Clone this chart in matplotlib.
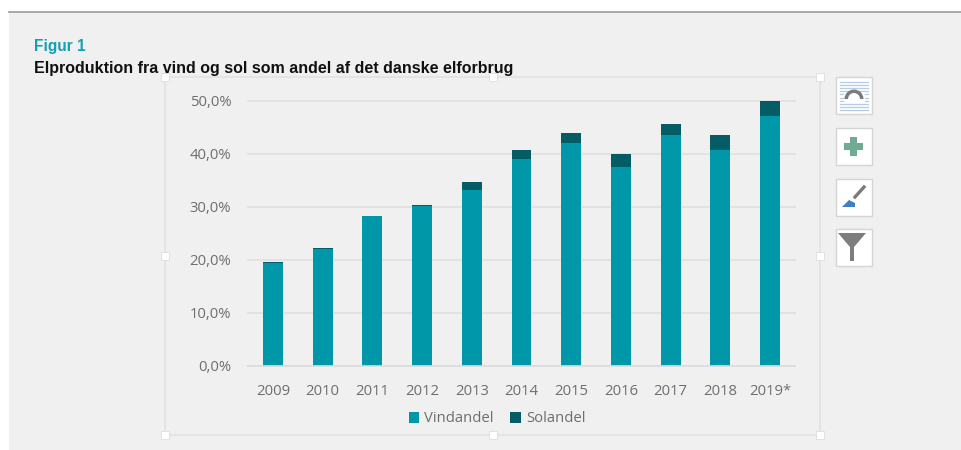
import matplotlib
matplotlib.use("Agg")
import matplotlib.pyplot as plt
from matplotlib.patches import Rectangle, Polygon, Wedge

# values (percent)
years = ['2009', '2010', '2011', '2012', '2013', '2014', '2015', '2016', '2017', '2018', '2019*']
wind_share = [19.4, 22.1, 28.2, 30.2, 33.2, 39.0, 42.1, 37.6, 43.5, 40.8, 47.2]
solar_share = [0.1, 0.1, 0.1, 0.2, 1.4, 1.8, 1.8, 2.3, 2.2, 2.7, 2.8]
y_ticks = [0, 10, 20, 30, 40, 50]

W, H = 961, 450
BG = '#f0f0f0'
TEAL = '#0097a9'
DARK = '#045c64'
GREY = '#6e6e6e'
FRAME = '#e2e2e2'

fig = plt.figure(figsize=(W / 100, H / 100), dpi=100, facecolor='white')

# background layer in pixel coordinates, for the screenshot furniture
bg = fig.add_axes([0, 0, 1, 1], zorder=0)
bg.set_xlim(0, W)
bg.set_ylim(H, 0)
bg.axis('off')
bg.add_patch(Rectangle((9, 12), W - 9, 438, fc=BG, ec='none'))
bg.plot([9, W], [12, 12], color='#a8a8a8', lw=1.4)

bg.text(34, 46, 'Figur 1', color='#12a0b4', fontsize=11.2, fontweight='bold',
        family='Liberation Sans', va='center')
bg.text(34, 69, 'Elproduktion fra vind og sol som andel af det danske elforbrug',
        color='#111111', fontsize=11.5, fontweight='bold', family='Liberation Sans', va='center')

# chart frame and selection handles
bg.add_patch(Rectangle((165, 77), 655, 358, fc='none', ec=FRAME, lw=1.2))
for hx in (165, 492.5, 820):
    for hy in (77, 256, 435):
        if hx == 492.5 and hy == 256:
            continue
        bg.add_patch(Rectangle((hx - 4, hy - 4), 8, 8, fc='white', ec='#dddddd', lw=0.6, zorder=3))

# side buttons
for by in (77, 128, 179, 229):
    bg.add_patch(Rectangle((836, by), 36, 37, fc='white', ec='#d4d4d4', lw=1, zorder=3))

for ly in (82, 85, 88, 91, 104, 107, 110):
    bg.plot([840, 868], [ly, ly], color='#b5cce4', lw=0.9, zorder=4)
for ly in (94, 98, 101):
    bg.plot([840, 843], [ly, ly], color='#b5cce4', lw=0.9, zorder=4)
    bg.plot([865, 868], [ly, ly], color='#b5cce4', lw=0.9, zorder=4)
bg.add_patch(Wedge((854, 99), 9.5, 180, 360, width=3.5, fc='#7a7a7a', ec='none', zorder=4))
bg.add_patch(Rectangle((849.5, 137), 7, 19, fc='#6fab93', ec='none', zorder=4))
bg.add_patch(Rectangle((843.5, 143), 19, 7, fc='#6fab93', ec='none', zorder=4))
bg.plot([855, 864], [197, 187], color='#7a7a7a', lw=2.4, zorder=4)
bg.add_patch(Polygon([[842, 207], [849, 200], [855, 203], [855, 207]], fc='#3f7fc4', ec='none', zorder=4))
bg.add_patch(Polygon([[838, 233], [866, 233], [854, 247], [854, 261], [850, 261], [850, 247]],
                     fc='#7d7d7d', ec='none', zorder=4))

# chart itself
ax = fig.add_axes([248 / W, 1 - 365.5 / H, (795 - 248) / W, (365.5 - 101) / H], zorder=1)
ax.patch.set_alpha(0)
x = range(len(years))
ax.bar(x, wind_share, width=0.4, color=TEAL, label='Vindandel', zorder=2, clip_on=False)
ax.bar(x, solar_share, width=0.4, bottom=wind_share, color=DARK, label='Solandel', zorder=2, clip_on=False)

ax.set_xlim(-0.5, 10.5)
ax.set_ylim(0, 50)
ax.set_yticks(y_ticks)
ax.set_yticklabels([f'{v},0%' for v in y_ticks])
ax.set_xticks(list(x))
ax.set_xticklabels(years)
ax.grid(axis='y', color='#e0e0e0', lw=1.2, zorder=0, clip_on=False)
ax.set_axisbelow(True)
ax.tick_params(axis='both', length=0, labelcolor=GREY, labelsize=10.7)
ax.tick_params(axis='x', pad=13)
ax.tick_params(axis='y', pad=12)
for lab in ax.get_xticklabels() + ax.get_yticklabels():
    lab.set_family('Open Sans')
for name, spine in ax.spines.items():
    spine.set_visible(name == 'bottom')
ax.spines['bottom'].set_color('#dcdcdc')
ax.spines['bottom'].set_linewidth(1.2)

fig.legend(loc='center', bbox_to_anchor=(497 / W, 1 - 419 / H), ncol=2, frameon=False,
           handlelength=0.7, handleheight=0.7, handletextpad=0.35, columnspacing=1.1,
           prop={'family': 'Open Sans', 'size': 10.7}, labelcolor=GREY)

fig.savefig('out.png', dpi=100, facecolor='white')
plt.close(fig)
